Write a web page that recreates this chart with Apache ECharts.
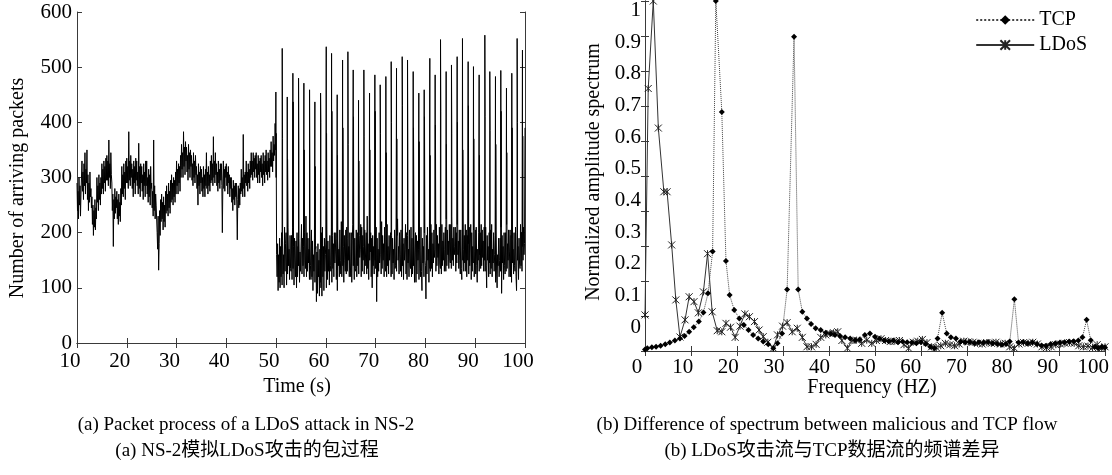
<!DOCTYPE html>
<html><head><meta charset="utf-8">
<script src="https://cdn.jsdelivr.net/npm/echarts@6/dist/echarts.min.js"></script>
<style>html,body{margin:0;padding:0;background:#fff}#c{width:1112px;height:475px}</style>
</head><body><div id="c"></div>
<script>
// ---------- (a) packets arriving, sampled every 0.1 s from 10 s ----------
const packetStart = 10;
const packetStep = 0.1;
const packetBase = [
 290,240,275,225,300,250,285,230,270,300,
 330,275,310,260,325,285,345,270,315,290,
 350,260,305,240,290,255,310,265,280,245,
 265,215,250,195,240,210,260,205,245,225,
 300,255,285,240,305,260,290,250,300,270,
 325,280,315,270,330,290,320,275,335,295,
 340,295,330,285,368,300,325,280,345,305,
 290,240,270,175,260,225,280,235,265,245,
 275,225,260,215,270,230,255,220,280,250,
 320,270,305,265,325,280,310,260,330,290,
 335,290,320,280,383,295,330,285,340,300,
 325,280,315,265,330,290,320,270,335,295,
 330,285,310,270,362,280,320,265,325,290,
 320,275,305,260,325,285,310,265,330,285,
 330,270,300,255,315,265,305,250,320,280,
 290,245,275,230,368,240,285,225,270,250,
 250,200,170,230,132,180,240,195,260,220,
 270,225,255,205,265,220,250,210,275,235,
 285,240,270,230,290,245,275,235,295,255,
 305,260,290,250,300,265,295,255,310,270,
 330,285,315,270,325,290,320,275,340,300,
 360,315,345,300,383,320,355,305,365,330,
 355,310,340,295,360,315,345,300,350,320,
 340,295,325,285,345,300,330,290,340,305,
 320,280,305,250,325,285,310,270,320,290,
 315,275,300,265,320,280,305,265,315,285,
 345,280,310,270,320,285,305,275,330,290,
 340,295,325,285,374,300,330,290,345,305,
 325,285,310,275,330,290,315,280,325,295,
 325,285,200,290,330,280,315,275,320,300,
 325,285,310,270,320,290,305,265,300,280,
 300,255,280,240,295,260,285,250,290,265,
 290,250,187,260,285,245,280,250,290,270,
 315,275,300,265,378,280,305,265,310,290,
 330,285,310,275,325,290,315,280,330,300,
 345,305,330,295,345,310,335,300,340,315,
 345,300,325,290,340,305,330,290,335,310,
 340,300,325,285,345,305,330,290,340,310,
 350,305,330,295,345,310,335,300,350,320,
 365,320,345,310,375,330,360,340,398,350,
 300,160,120,180,95,160,110,190,100,175,
 120,200,105,185,125,160,100,210,130,180,
 200,105,185,125,210,140,170,115,195,135,
 130,195,115,210,135,175,105,190,150,120,
 185,100,200,120,175,140,190,110,165,130,
 130,215,125,190,140,175,120,200,150,135,
 230,120,200,130,190,145,170,115,205,140,
 115,205,120,185,95,160,130,190,110,170,
 175,75,165,90,180,120,150,85,170,110,
 100,200,85,210,120,175,95,190,130,160,
 190,100,205,115,185,130,170,105,195,140,
 130,210,110,195,135,180,120,200,145,165,
 200,115,190,95,185,140,170,120,205,150,
 125,220,120,200,140,175,110,195,150,130,
 205,125,210,130,190,150,175,120,200,145,
 120,200,110,185,215,140,165,115,190,130,
 135,205,120,200,140,180,125,195,155,170,
 215,120,210,130,195,150,175,125,205,140,
 140,200,125,230,135,180,115,190,150,165,
 200,120,190,100,195,140,175,125,205,150,
 135,210,75,190,120,170,130,200,145,160,
 205,125,220,135,195,150,180,120,210,140,
 130,210,120,215,140,175,125,195,150,170,
 200,120,195,125,190,145,170,115,205,135,
 140,210,130,195,225,150,175,125,200,160,
 130,205,120,200,140,180,115,190,150,170,
 215,125,200,115,195,145,170,120,205,140,
 135,210,120,190,125,175,140,200,110,165,
 200,110,195,125,185,150,170,115,190,135,
 120,210,130,95,190,145,175,120,200,150,
 140,80,195,125,210,150,170,110,185,135,
 130,215,135,200,120,180,145,205,155,170,
 205,130,215,140,195,155,180,125,210,145,
 135,205,125,215,140,185,150,200,130,170,
 210,130,225,140,205,160,185,135,215,150,
 145,215,135,230,150,190,140,210,160,175,
 210,130,200,145,215,160,185,135,205,150,
 125,205,135,115,200,150,170,130,195,145,
 215,130,205,120,195,150,180,125,210,140,
 140,215,115,200,130,175,145,205,120,165,
 205,125,210,140,110,170,150,200,130,160,
 200,135,215,140,205,155,185,130,210,150,
 130,210,140,100,195,150,175,120,200,145,
 125,205,135,215,120,170,145,200,130,160,
 195,110,205,125,100,160,140,190,120,150,
 190,130,210,90,195,145,175,115,200,140,
 125,200,130,215,135,180,150,205,120,165,
 205,120,195,110,190,145,170,125,200,140,
 130,210,120,95,200,150,175,115,190,145,
 135,215,140,200,130,175,150,210,160,180,
 390
];
// attack bursts: time (s), peak and the shoulder just after it
const spikeTimes = [49.95,51.23,52.24,53.37,54.51,55.58,56.72,57.79,58.93,60.07,61.14,62.27,63.35,64.42,65.49,66.56,67.63,68.77,69.84,70.91,72.05,73.12,74.19,75.33,76.40,77.54,78.67,79.75,80.88,81.95,83.03,84.16,85.23,86.37,87.44,88.58,89.65,90.79,91.93,92.93,94.07,95.14,96.28,97.35,98.42,99.49];
const spikePeaks = [455,534,446,489,480,471,459,437,453,537,525,450,513,528,495,440,495,453,486,468,483,510,498,519,513,492,453,459,516,486,550,492,504,519,552,510,501,486,558,492,483,494,462,489,552,531];
const spikeEcho  = [380,371,333,437,359,350,317,320,400,380,420,340,390,360,410,330,375,350,420,380,345,400,370,430,350,390,365,410,340,395,420,360,380,400,350,430,370,340,410,385,360,420,345,390,400,375];

// ---------- (b) spectrum ----------
const tcpFreq = [0,0.5,1.5,2.4,3.4,4.4,5.4,6.5,7.6,8.6,9.6,10.6,11.7,12.7,13.7,14.7,15.4,16.7,17.6,18.4,19.4,20.5,21.5,22.5,23.5,24.6,25.7,26.8,27.9,28.8,29.8,30.9,32.4,33.3,34.2,35.2,36.1,37.1,38.2,39.3,40.4,41.3,42.4,43.5,44.6,45.7,46.7,47.8,48.9,50,51,52,53,54,55,56,57,58,59,60,61,62,62.9,63.6,64.6,65.6,66.5,67.6,68.6,69.6,70.6,71.6,72.6,73.6,74.6,75.6,76.6,77.6,78.5,79.3,80.3,81.2,82.2,83.2,84.2,85.2,86.2,87.2,88.2,89.2,90.2,91.2,92.2,93.2,94.2,95.1,96,96.9,97.8,98.5,99.3,100];
const tcpAmp = [0.004,0.008,0.011,0.012,0.015,0.019,0.024,0.03,0.036,0.043,0.055,0.068,0.084,0.11,0.165,0.284,1.0,0.683,0.257,0.16,0.117,0.093,0.074,0.06,0.046,0.036,0.027,0.019,0.008,0.022,0.05,0.176,0.898,0.176,0.112,0.093,0.077,0.065,0.06,0.052,0.049,0.046,0.043,0.039,0.036,0.031,0.033,0.046,0.05,0.041,0.035,0.03,0.028,0.03,0.025,0.027,0.025,0.024,0.022,0.025,0.02,0.012,0.008,0.036,0.109,0.05,0.039,0.036,0.027,0.025,0.026,0.022,0.025,0.024,0.026,0.022,0.02,0.018,0.02,0.027,0.148,0.024,0.026,0.022,0.024,0.02,0.016,0.015,0.02,0.022,0.024,0.025,0.027,0.028,0.03,0.039,0.089,0.031,0.012,0.008,0.012,0.01];
const ldosFreq = [0,0.7,1.8,2.9,4.1,4.8,5.8,6.7,7.6,8.7,9.6,10.65,11.6,12.7,13.6,14.6,15.7,16.7,17.6,18.6,19.6,20.65,21.7,22.7,23.8,24.8,25.7,26.7,27.9,28.8,29.9,30.9,32,33.1,34.2,35.2,36.2,37.2,38.2,39.3,40.2,41.0,41.9,42.8,44,45,46,47.1,48.2,49.3,50.3,51.3,52.3,53.3,54.3,55.3,56.3,57.3,58.3,59.3,60.3,61.3,62.3,63.3,64.3,65.3,66.3,67.3,68.3,69.3,70.3,71.3,72.3,73.3,74.3,75.3,76.3,77.3,78.3,79.3,80.3,81.3,82.3,83.3,84.3,85.3,86.3,87.3,88.3,89.3,90.3,91.3,92.3,93.3,94.3,95.3,96.3,97.3,98.3,99.3,100];
const ldosAmp = [0.103,0.75,1.0,0.637,0.455,0.455,0.303,0.146,0.04,0.089,0.155,0.141,0.109,0.169,0.278,0.112,0.058,0.055,0.079,0.068,0.039,0.071,0.106,0.098,0.084,0.06,0.041,0.025,0.008,0.046,0.071,0.081,0.055,0.065,0.039,0.012,0.012,0.019,0.039,0.046,0.05,0.052,0.055,0.03,0.008,0.03,0.031,0.022,0.031,0.022,0.03,0.035,0.03,0.027,0.028,0.03,0.018,0.008,0.025,0.028,0.033,0.024,0.012,0.01,0.015,0.022,0.018,0.015,0.02,0.028,0.026,0.025,0.022,0.02,0.024,0.022,0.025,0.02,0.022,0.012,0.008,0.02,0.024,0.022,0.025,0.02,0.012,0.01,0.012,0.018,0.02,0.022,0.024,0.022,0.015,0.012,0.014,0.01,0.018,0.008,0.012];

// ---------- texts ----------
const seriesNames = ['TCP', 'LDoS'];
const texts = {
  yLeft: 'Number of arriving packets', xLeft: 'Time (s)',
  yRight: 'Normalized amplitude spectrum', xRight: 'Frequency (HZ)',
  capA1: '(a) Packet process of a LDoS attack in NS-2', capA2: '(a) NS-2模拟LDoS攻击的包过程',
  capB1: '(b) Difference of spectrum between malicious and TCP flow', capB2: '(b) LDoS攻击流与TCP数据流的频谱差异'
};

// ---------- build ----------
const packetData = packetBase.map((v, i) => [+(packetStart + i * packetStep).toFixed(1), v]);
spikeTimes.forEach((t, i) => {
  packetData.push([t, spikePeaks[i]]);
  packetData.push([+(t + 0.06).toFixed(2), spikeEcho[i]]);
});
packetData.sort((a, b) => a[0] - b[0]);
const tcpData = tcpFreq.map((f, i) => [f, tcpAmp[i]]);
const ldosData = ldosFreq.map((f, i) => [f, ldosAmp[i]]);

const FONT = "'Liberation Serif','Times New Roman',serif";
const CJK = "'Liberation Serif','Noto Sans CJK SC',serif";
const AX = '#3a3a3a';
const tickIn = (len) => ({ show: true, inside: true, length: len, lineStyle: { color: AX, width: 1 } });
const lbl = { color: '#000', fontFamily: FONT, fontSize: 21 };
const noLine = { show: false };
const txt = (x, y, s, size, fam, rot) => ({ type: 'text', x, y, rotation: rot || 0,
  style: { text: s, font: size + 'px ' + fam, fill: '#000', textAlign: 'center', textVerticalAlign: 'middle' } });

const chart = echarts.init(document.getElementById('c'), null, { renderer: 'canvas' });
chart.setOption({
  animation: false,
  backgroundColor: '#fff',
  grid: [
    { left: 77, top: 12, width: 448, height: 331 },   // 0 packets plot
    { left: 70, top: 12, width: 448, height: 331 },   // 1 packets x labels
    { left: 645, top: 1, width: 460, height: 350 },   // 2 spectrum plot
    { left: 637, top: 1, width: 458, height: 350 },   // 3 spectrum x labels
    { left: 645, top: 4, width: 460, height: 323 }    // 4 spectrum y labels
  ],
  xAxis: [
    { gridIndex: 0, type: 'value', min: 10, max: 100, interval: 10, position: 'bottom',
      axisLine: { show: true, lineStyle: { color: AX } }, axisTick: tickIn(5), axisLabel: { show: false }, splitLine: noLine },
    { gridIndex: 0, type: 'value', min: 10, max: 100, interval: 10, position: 'top',
      axisLine: { show: true, lineStyle: { color: AX } }, axisTick: tickIn(5), axisLabel: { show: false }, splitLine: noLine },
    { gridIndex: 1, type: 'value', min: 10, max: 100, interval: 10, position: 'bottom',
      axisLine: noLine, axisTick: noLine, axisLabel: Object.assign({ margin: 8 }, lbl), splitLine: noLine },
    { gridIndex: 2, type: 'value', min: 0, max: 100, interval: 10, position: 'bottom',
      axisLine: { show: true, lineStyle: { color: AX } }, axisTick: tickIn(5), axisLabel: { show: false }, splitLine: noLine },
    { gridIndex: 2, type: 'value', min: 0, max: 100, interval: 10, position: 'top',
      axisLine: { show: true, lineStyle: { color: AX } }, axisTick: tickIn(5), axisLabel: { show: false }, splitLine: noLine },
    { gridIndex: 3, type: 'value', min: 0, max: 100, interval: 10, position: 'bottom',
      axisLine: noLine, axisTick: noLine, axisLabel: Object.assign({ margin: 6 }, lbl), splitLine: noLine },
    { gridIndex: 4, type: 'value', min: 0, max: 100, show: false }
  ],
  yAxis: [
    { gridIndex: 0, type: 'value', min: 0, max: 600, interval: 100, position: 'left',
      axisLine: { show: true, lineStyle: { color: AX } }, axisTick: tickIn(5), axisLabel: Object.assign({ margin: 5 }, lbl), splitLine: noLine },
    { gridIndex: 0, type: 'value', min: 0, max: 600, interval: 100, position: 'right',
      axisLine: { show: true, lineStyle: { color: AX } }, axisTick: tickIn(5), axisLabel: { show: false }, splitLine: noLine },
    { gridIndex: 1, type: 'value', min: 0, max: 600, show: false },
    { gridIndex: 2, type: 'value', min: 0, max: 1, interval: 0.1, position: 'left',
      axisLine: { show: true, lineStyle: { color: AX } }, axisTick: tickIn(4), axisLabel: { show: false }, splitLine: noLine },
    { gridIndex: 2, type: 'value', min: 0, max: 1, interval: 0.1, position: 'right',
      axisLine: { show: true, lineStyle: { color: AX } }, axisTick: tickIn(4), axisLabel: { show: false }, splitLine: noLine },
    { gridIndex: 3, type: 'value', min: 0, max: 1, show: false },
    { gridIndex: 4, type: 'value', min: 0, max: 1, interval: 0.1, position: 'left',
      axisLine: noLine, axisTick: noLine, axisLabel: Object.assign({ margin: 4 }, lbl), splitLine: noLine }
  ],
  legend: {
    orient: 'vertical', right: 20, top: 5, itemWidth: 58, itemHeight: 12, itemGap: 5,
    data: seriesNames, textStyle: { fontFamily: FONT, fontSize: 20, color: '#000' }
  },
  series: [
    { type: 'line', xAxisIndex: 0, yAxisIndex: 0, data: packetData, showSymbol: false, symbol: 'none',
      lineStyle: { color: '#000', width: 1 }, silent: true },
    { name: seriesNames[0], type: 'line', xAxisIndex: 3, yAxisIndex: 3, data: tcpData,
      symbol: 'diamond', symbolSize: 6, itemStyle: { color: '#000', borderWidth: 0 },
      lineStyle: { color: '#444', width: 1, type: 'dotted' }, z: 3 },
    { name: seriesNames[1], type: 'line', xAxisIndex: 3, yAxisIndex: 3, data: ldosData,
      symbol: 'path://M0,0L10,10M10,0L0,10M5,0L5,10', symbolSize: 7,
      itemStyle: { color: '#222', borderColor: '#222', borderWidth: 1 },
      lineStyle: { color: '#333', width: 1 }, z: 2 }
  ],
  graphic: [
    txt(18, 188, texts.yLeft, 20, FONT, Math.PI / 2),
    txt(297, 387, texts.xLeft, 20, FONT),
    txt(594, 172, texts.yRight, 20, FONT, Math.PI / 2),
    txt(872, 388, texts.xRight, 20, FONT),
    txt(246, 425, texts.capA1, 19, CJK),
    txt(247, 451, texts.capA2, 19, CJK),
    txt(827, 425, texts.capB1, 19, CJK),
    txt(832, 451, texts.capB2, 19, CJK)
  ]
});
</script>
</body></html>
